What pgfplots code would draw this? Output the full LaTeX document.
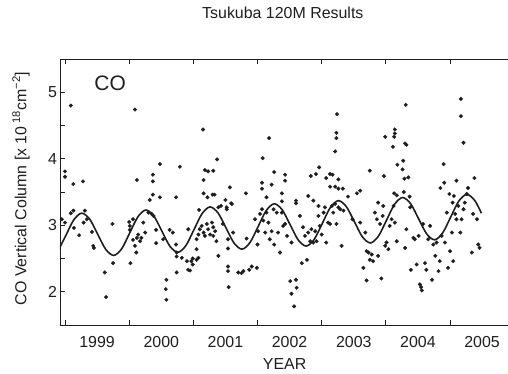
\documentclass[border=0pt]{standalone}
\usepackage{pgfplots}
\pgfplotsset{compat=1.18}
\usepackage{pgfplotstable}
\usepackage{fontspec}
\setmainfont{Liberation Sans}
\definecolor{ink}{HTML}{1E1E1E}

\pgfplotstableread{
x y
1999.09 4.80
1999.00 3.81
1999.00 3.73
1999.13 3.62
1999.28 3.66
2000.09 4.74
2000.12 3.68
2000.37 3.76
2000.37 3.66
2000.48 3.92
2000.37 3.46
2000.32 3.38
2000.48 3.42
2000.73 3.42
2000.79 3.88
2001.15 4.44
2001.16 3.68
2001.18 3.83
2001.23 3.81
2001.31 3.82
2001.37 3.99
2001.16 3.48
2001.22 3.42
2001.30 3.46
2001.33 3.46
2001.57 3.57
2001.50 3.38
2001.52 3.24
2001.59 3.33
2001.82 3.48
2001.09 3.23
2001.39 3.27
1998.95 3.09
1999.00 3.04
1999.09 3.18
1999.13 3.22
1999.14 2.96
1999.22 2.85
1999.29 3.04
1999.31 3.22
1999.34 3.09
1999.42 2.90
1999.44 2.69
1999.45 2.66
1999.62 2.29
1999.64 1.92
1999.75 2.43
1999.74 3.02
2000.00 3.05
2000.01 2.99
2000.01 2.93
2000.02 2.43
2000.06 3.09
2000.06 2.78
2000.09 2.69
2000.11 2.59
2000.12 2.81
2000.14 2.86
2000.17 2.76
2000.19 2.81
2000.22 3.04
2000.25 2.89
2000.30 3.19
2000.35 3.17
2000.38 3.14
2000.42 2.93
2000.42 2.73
2000.53 2.79
2000.58 2.18
2000.57 2.04
2000.58 1.88
2000.63 2.93
2000.68 2.89
2000.73 2.71
2000.74 2.59
2000.74 2.53
2000.74 2.29
2000.82 2.51
2000.90 2.46
2000.92 2.33
2000.95 2.32
2000.97 2.46
2000.99 2.50
2000.92 2.94
2000.99 2.41
2001.05 2.48
2001.08 2.51
2001.05 2.64
2001.05 2.79
2001.08 2.86
2001.10 2.94
2001.13 2.99
2001.16 2.89
2001.18 2.84
2001.21 3.02
2001.23 2.94
2001.26 2.86
2001.29 3.04
2001.31 2.97
2001.31 2.84
2001.34 2.91
2001.36 2.76
2001.39 2.54
2001.43 3.29
2001.46 3.02
2001.52 3.27
2001.54 2.79
2001.54 2.65
2001.54 2.38
2001.54 2.31
2001.55 2.07
2001.60 3.32
2001.62 2.89
2001.70 2.29
2001.75 2.28
2001.78 2.31
2001.83 2.80
2001.87 2.33
2001.91 2.38
2001.96 3.09
2001.99 2.36
2002.00 2.71
2002.01 2.91
2002.04 3.17
2002.07 3.24
2002.09 3.07
2002.12 2.89
2002.14 3.19
2002.17 3.04
2002.19 2.79
2002.22 2.91
2002.25 3.24
2002.26 2.71
2002.30 3.19
2002.32 2.89
2002.35 2.59
2002.38 3.19
2002.40 2.99
2002.43 3.02
2002.46 2.84
2002.53 2.74
2002.51 2.16
2002.60 2.18
2002.61 2.06
2002.53 1.97
2002.57 1.78
2002.66 3.14
2002.69 2.43
2002.71 2.97
2002.74 2.84
2002.77 2.48
2002.79 2.89
2002.82 2.76
2002.84 2.94
2002.87 2.74
2002.90 2.91
2002.92 2.76
2002.95 3.14
2002.97 2.99
2003.00 2.86
2003.03 3.19
2003.05 3.27
2003.07 2.74
2003.10 3.04
2003.13 3.02
2003.16 3.29
2003.18 3.19
2003.21 3.32
2003.23 3.02
2003.26 3.27
2003.29 3.24
2003.31 2.69
2003.34 3.22
2003.48 3.09
2003.60 3.04
2003.65 2.36
2003.68 2.89
2003.70 2.61
2003.70 2.17
2003.73 2.59
2003.75 2.48
2003.78 2.56
2003.80 2.46
2003.83 3.19
2003.86 3.09
2003.88 2.54
2003.91 3.02
2003.93 2.20
2003.95 3.14
2003.96 3.29
2003.99 2.69
2004.01 2.74
2004.04 2.64
2004.06 2.99
2004.09 3.09
2004.12 3.29
2004.14 3.04
2004.17 2.76
2004.30 2.66
2004.32 2.94
2004.38 3.27
2004.39 2.33
2004.43 2.81
2004.45 2.79
2004.48 2.41
2004.51 2.84
2004.53 2.11
2004.55 2.07
2004.56 2.02
2004.58 3.02
2004.61 2.43
2004.63 2.33
2004.66 2.79
2004.69 2.99
2004.72 2.18
2004.74 2.71
2004.77 2.54
2004.79 2.74
2004.82 2.31
2004.84 2.46
2004.87 2.84
2004.92 2.74
2004.95 3.19
2004.97 2.36
2005.00 2.61
2005.03 2.89
2005.05 2.46
2005.08 3.17
2005.10 3.09
2005.13 3.29
2005.16 2.89
2005.18 3.09
2005.21 3.24
2005.23 3.34
2005.34 2.59
2005.36 3.17
2005.42 3.09
2005.44 2.71
2005.46 2.66
2002.18 4.31
2002.08 4.01
2002.07 3.64
2002.07 3.55
2002.22 3.61
2002.26 3.80
2002.14 3.42
2002.38 3.48
2002.43 3.76
2002.43 3.67
2002.38 3.36
2002.60 3.37
2002.60 3.33
2002.79 3.44
2002.83 3.74
2002.91 3.77
2002.96 3.87
2002.87 3.37
2002.95 3.29
2003.07 3.71
2003.13 3.77
2003.17 3.76
2003.21 4.11
2003.23 4.31
2003.23 4.39
2003.24 4.67
2003.26 3.69
2003.13 3.58
2003.21 3.58
2003.26 3.55
2003.33 3.55
2003.41 3.43
2003.55 3.48
2003.60 3.52
2003.75 3.82
2003.88 3.34
2003.97 3.74
2003.99 4.33
2004.11 4.18
2004.13 4.33
2004.14 4.38
2004.14 4.44
2004.18 3.91
2004.27 3.97
2004.26 3.84
2004.30 4.23
2004.32 4.21
2004.31 4.81
2004.29 3.70
2004.35 3.72
2004.13 3.48
2004.17 3.45
2004.28 3.50
2004.37 3.43
2004.90 3.92
2004.91 3.64
2004.85 3.56
2004.99 3.47
2005.10 3.67
2005.17 4.90
2005.17 4.64
2005.21 4.24
2005.28 3.56
2005.38 3.71
2005.04 3.34
2005.26 3.47
2005.06 3.44
}\pts

\begin{document}
\begin{tikzpicture}
\useasboundingbox (-60bp,-49bp) rectangle (448bp,325bp);
\begin{axis}[
  scale only axis, width=452bp, height=266bp,
  at={(0bp,0bp)}, anchor=south west,
  font=\fontsize{16}{19}\selectfont,
  /pgf/number format/assume math mode=true,
  xmin=1998.922, xmax=2005.966, ymin=1.5, ymax=5.5,
  axis line style={line width=0.9bp, color=ink},
  tick style={line width=0.9bp, color=ink},
  tick align=inside,
  xtick pos=both, ytick pos=left,
  major tick length=5bp, minor tick length=5bp,
  xtick={1999,2000,2001,2002,2003,2004,2005}, xticklabels={},
  extra x ticks={1999.5,2000.5,2001.5,2002.5,2003.5,2004.5,2005.5},
  extra x tick labels={1999,2000,2001,2002,2003,2004,2005},
  extra x tick style={tick style={draw=none}},
  xticklabel style={anchor=center, yshift=-17bp, text=ink},
  ytick={2,3,4,5}, minor ytick={1.5,2.5,3.5,4.5,5.5},
  yticklabel style={anchor=center, xshift=-7.5bp, text=ink},
  title={Tsukuba 120M Results},
  title style={at={(axis description cs:0.493,1.150)}, anchor=center, text=ink},
  xlabel={YEAR},
  xlabel style={at={(axis description cs:0.497,-0.147)}, anchor=center, text=ink},
  ylabel={CO Vertical Column [x 10\,\textsuperscript{18}cm\textsuperscript{−2}]},
  ylabel style={at={(axis description cs:-0.086,0.513)}, anchor=center, text=ink},
]
\addplot[only marks, mark=*, mark size=1.8bp, color=ink] table[x=x,y=y] {\pts};
\addplot[smooth, line width=1.6bp, color=ink, no marks] coordinates {
(1998.885,2.602) (1999.010,2.840) (1999.135,3.079) (1999.260,3.182)
(1999.385,3.091) (1999.510,2.864) (1999.635,2.637) (1999.760,2.546)
(1999.885,2.649) (2000.010,2.887) (2000.135,3.126) (2000.260,3.229)
(2000.385,3.138) (2000.510,2.911) (2000.635,2.684) (2000.760,2.593)
(2000.885,2.696) (2001.010,2.934) (2001.135,3.173) (2001.260,3.276)
(2001.385,3.185) (2001.510,2.958) (2001.635,2.731) (2001.760,2.640)
(2001.885,2.743) (2002.010,2.981) (2002.135,3.220) (2002.260,3.323)
(2002.385,3.232) (2002.510,3.005) (2002.635,2.778) (2002.760,2.687)
(2002.885,2.790) (2003.010,3.028) (2003.135,3.267) (2003.260,3.370)
(2003.385,3.279) (2003.510,3.052) (2003.635,2.825) (2003.760,2.734)
(2003.885,2.837) (2004.010,3.075) (2004.135,3.314) (2004.260,3.417)
(2004.385,3.326) (2004.510,3.099) (2004.635,2.872) (2004.760,2.781)
(2004.885,2.884) (2005.010,3.122) (2005.135,3.361) (2005.260,3.464)
(2005.385,3.373) (2005.490,3.180)
};
\node[font=\fontsize{21}{24}\selectfont, text=ink] at (rel axis cs:0.111,0.909) {CO};
\end{axis}
\end{tikzpicture}
\end{document}
